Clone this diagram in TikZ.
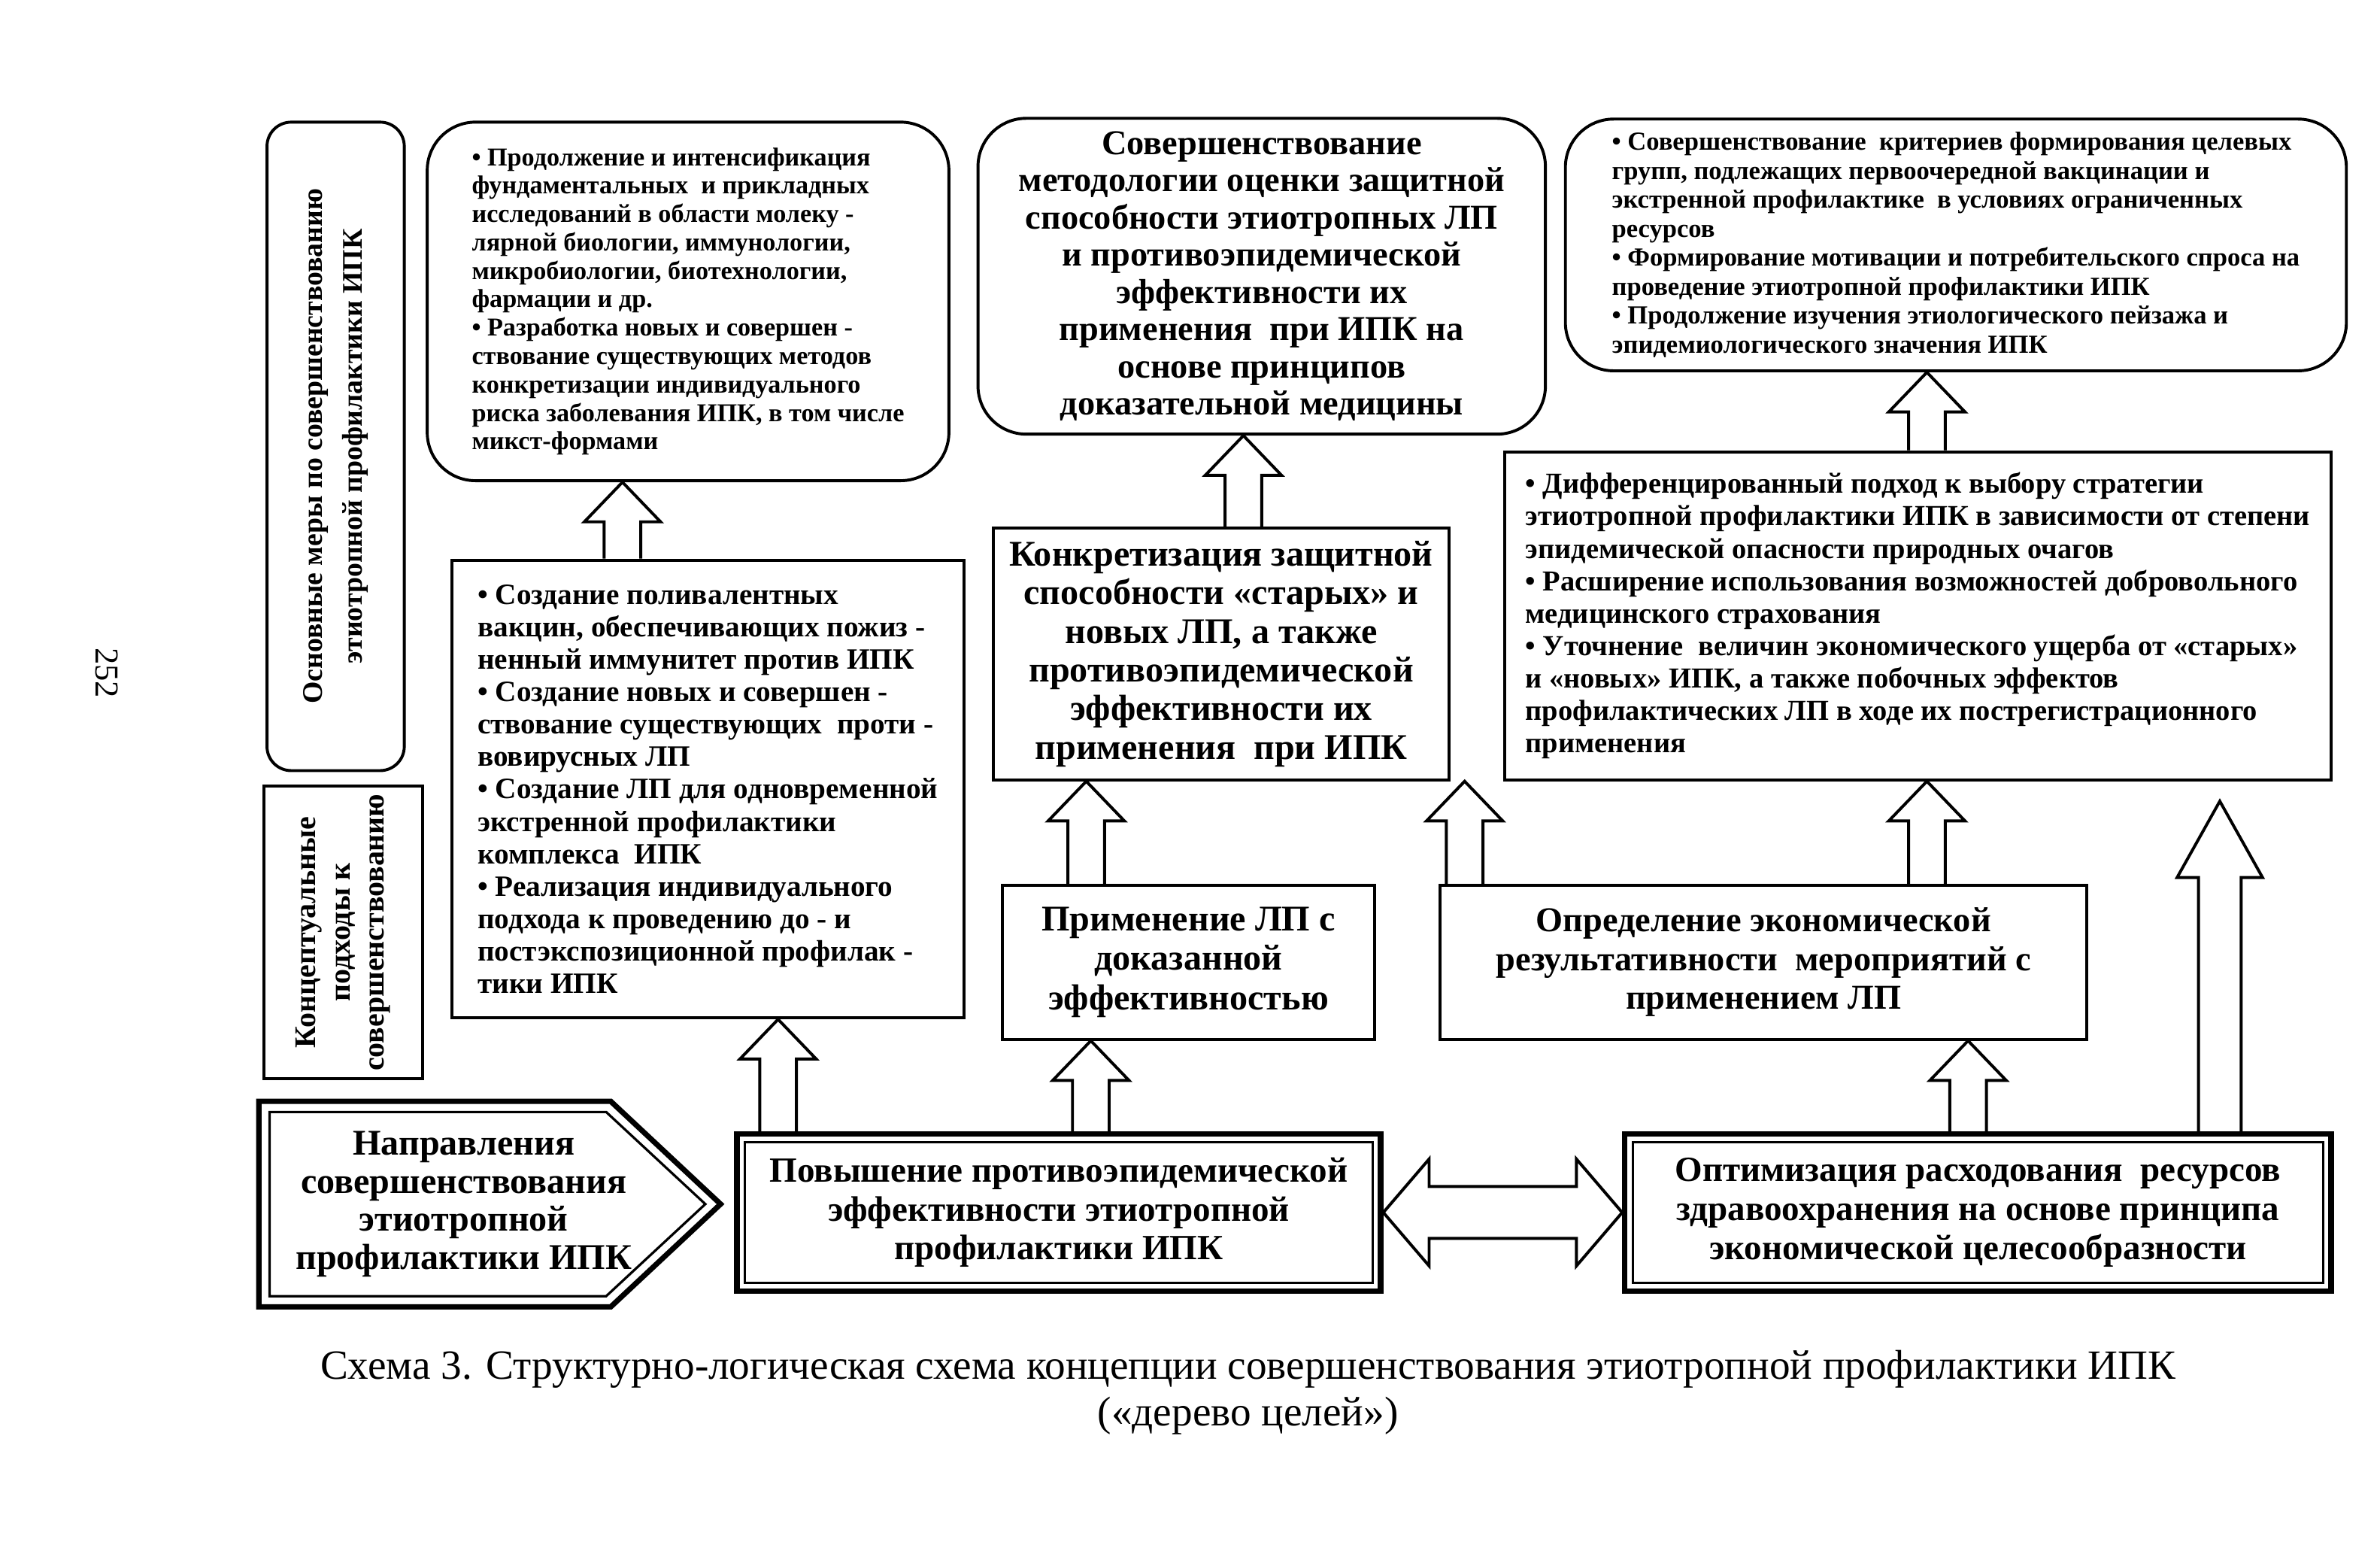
\documentclass[tikz,border=0pt]{standalone}
\usepackage{fontspec}
\setmainfont{Liberation Serif}
\usetikzlibrary{positioning}
\usetikzlibrary{calc}

\tikzset{
  box/.style={draw, line width=1.1pt, inner sep=0pt},
  rbox/.style={box, rounded corners=18pt},
  blk/.style={draw, line width=1.1pt, line join=miter},
}

% hollow block arrow going up from one box to another
\newcommand{\blockup}[3]{%
  \coordinate (s) at (#1,0 |- #2.north);
  \coordinate (e) at (#1,0 |- #3.south);
  \draw[blk] ($(s)+(-12,0)$) -- ($(e)+(-12,26)$) -- ($(e)+(-25,26)$) -- (e)
    -- ($(e)+(25,26)$) -- ($(e)+(12,26)$) -- ($(s)+(12,0)$);
}

\begin{document}
\begin{tikzpicture}[x=0.02cm,y=-0.02cm]
\useasboundingbox (0,0) rectangle (1560,1010.4);

% left column
\node[rbox, rotate=90, rounded corners=9pt, minimum width=8.5cm, minimum height=1.8cm, align=center,
  font={\fontsize{10.6}{15}\selectfont\bfseries}] (lm) at (220,292.5)
  {Основные меры по совершенствованию\\этиотропной профилактики ИПК};
\node[box, rotate=90, minimum width=3.84cm, minimum height=2.08cm, align=center,
  font={\fontsize{11.2}{12.8}\selectfont\bfseries}] (lc) at (225,611)
  {Концептуальные\\подходы к\\совершенствованию};

\node[minimum width=5.36cm, minimum height=2.68cm, inner sep=0pt, align=center,
  font={\fontsize{13.5}{14.2}\selectfont\bfseries}] (dir) at (304,789)
  {Направления\\совершенствования\\этиотропной\\профилактики ИПК};
\draw[line width=2pt] (dir.north west) -- ($(dir.north east)+(-38,0)$) -- ($(dir.east)+(34,0)$)
  -- ($(dir.south east)+(-38,0)$) -- (dir.south west) -- cycle;
\draw[line width=0.9pt] ($(dir.north west)+(7,7)$) -- ($(dir.north east)+(-41,7)$) -- ($(dir.east)+(24,0)$)
  -- ($(dir.south east)+(-41,-7)$) -- ($(dir.south west)+(7,-7)$) -- cycle;

% top row
\node[rbox, minimum width=6.84cm, minimum height=4.7cm, align=left,
  font={\fontsize{9.6}{10.6}\selectfont\bfseries}] (b4) at (451,197.5)
  {• Продолжение и интенсификация\\
   фундаментальных\ \ и прикладных\\
   исследований в области молеку -\\
   лярной биологии, иммунологии,\\
   микробиологии, биотехнологии,\\
   фармации и др.\\
   • Разработка новых и совершен -\\
   ствование существующих методов\\
   конкретизации индивидуального\\
   риска заболевания ИПК, в том числе\\
   микст-формами};
\node[rbox, minimum width=7.44cm, minimum height=4.14cm, align=center,
  font={\fontsize{13}{13.9}\selectfont\bfseries}] (b5) at (827,181)
  {Совершенствование\\
   методологии оценки защитной\\
   способности этиотропных ЛП\\
   и противоэпидемической\\
   эффективности их\\
   применения\ \ при ИПК на\\
   основе принципов\\
   доказательной медицины};
\node[rbox, minimum width=10.24cm, minimum height=3.3cm, align=left,
  font={\fontsize{9.7}{10.8}\selectfont\bfseries}] (b6) at (1282,160.5)
  {• Совершенствование\ \ критериев формирования целевых\\
   групп, подлежащих первоочередной вакцинации и\\
   экстренной профилактике\ \ в условиях ограниченных\\
   ресурсов\\
   • Формирование мотивации и потребительского спроса на\\
   проведение этиотропной профилактики ИПК\\
   • Продолжение изучения этиологического пейзажа и\\
   эпидемиологического значения ИПК};

% middle row
\node[box, minimum width=6.72cm, minimum height=6cm, align=left,
  font={\fontsize{11}{12.1}\selectfont\bfseries}] (b7) at (464,517)
  {• Создание поливалентных\\
   вакцин, обеспечивающих пожиз -\\
   ненный иммунитет против ИПК\\
   • Создание новых и совершен -\\
   ствование существующих\ \ проти -\\
   вовирусных ЛП\\
   • Создание ЛП для одновременной\\
   экстренной профилактики\\
   комплекса\ \ ИПК\\
   • Реализация индивидуального\\
   подхода к проведению до - и\\
   постэкспозиционной профилак -\\
   тики ИПК};
\node[box, minimum width=5.98cm, minimum height=3.3cm, align=center,
  font={\fontsize{13.5}{14.4}\selectfont\bfseries}] (b8) at (800.5,428.5)
  {Конкретизация защитной\\
   способности «старых» и\\
   новых ЛП, а также\\
   противоэпидемической\\
   эффективности их\\
   применения\ \ при ИПК};
\node[box, minimum width=10.84cm, minimum height=4.3cm, align=left,
  font={\fontsize{10.8}{12.1}\selectfont\bfseries}] (b9) at (1257,403.5)
  {• Дифференцированный подход к выбору стратегии\\
   этиотропной профилактики ИПК в зависимости от степени\\
   эпидемической опасности природных очагов\\
   • Расширение использования возможностей добровольного\\
   медицинского страхования\\
   • Уточнение\ \ величин экономического ущерба от «старых»\\
   и «новых» ИПК, а также побочных эффектов\\
   профилактических ЛП в ходе их пострегистрационного\\
   применения};

\node[box, minimum width=4.88cm, minimum height=2.02cm, align=center,
  font={\fontsize{13.5}{14.7}\selectfont\bfseries}] (b10) at (779,630.5)
  {Применение ЛП с\\доказанной\\эффективностью};
\node[box, minimum width=8.48cm, minimum height=2.02cm, align=center,
  font={\fontsize{13}{14.5}\selectfont\bfseries}] (b11) at (1156,630.5)
  {Определение экономической\\результативности\ \ мероприятий с\\применением ЛП};

% bottom row
\node[box, line width=2pt, minimum width=8.44cm, minimum height=2.06cm, align=center,
  font={\fontsize{13.2}{14.5}\selectfont\bfseries}] (b12) at (694,794.5)
  {Повышение противоэпидемической\\эффективности этиотропной\\профилактики ИПК};
\draw[line width=0.9pt] ($(b12.north west)+(7,7)$) rectangle ($(b12.south east)+(-7,-7)$);
\node[box, line width=2pt, minimum width=9.26cm, minimum height=2.06cm, align=center,
  font={\fontsize{13.2}{14.5}\selectfont\bfseries}] (b13) at (1296.5,794.5)
  {Оптимизация расходования\ \ ресурсов\\здравоохранения на основе принципа\\экономической целесообразности};
\draw[line width=0.9pt] ($(b13.north west)+(7,7)$) rectangle ($(b13.south east)+(-7,-7)$);

% arrows
\blockup{408}{b7}{b4}
\blockup{815}{b8}{b5}
\blockup{1263}{b9}{b6}
\blockup{712}{b10}{b8}
\blockup{960}{b11}{b8}
\blockup{1263}{b11}{b9}
\blockup{510}{b12}{b7}
\blockup{715}{b12}{b10}
\blockup{1290}{b13}{b11}

\coordinate (tip) at (1455,525);
\coordinate (s10) at (1455,0 |- b13.north);
\draw[blk] ($(s10)+(-14,0)$) -- ($(tip)+(-14,50)$) -- ($(tip)+(-28,50)$) -- (tip)
  -- ($(tip)+(28,50)$) -- ($(tip)+(14,50)$) -- ($(s10)+(14,0)$);

\coordinate (l) at (b12.east);
\coordinate (r) at (b13.west);
\draw[blk] (l) -- ($(l)+(30,-35)$) -- ($(l)+(30,-17)$) -- ($(r)+(-30,-17)$) -- ($(r)+(-30,-35)$)
  -- (r) -- ($(r)+(-30,35)$) -- ($(r)+(-30,17)$) -- ($(l)+(30,17)$) -- ($(l)+(30,35)$) -- cycle;

% page number and caption
\node[rotate=-90, font={\fontsize{12.5}{14}\selectfont}] (pg) at (70,441) {252};
\node[align=center, font={\fontsize{15.5}{17.6}\selectfont}] (cap) at (818,912.5)
  {Схема 3. Структурно-логическая схема концепции совершенствования этиотропной профилактики ИПК\\
   («дерево целей»)};

\end{tikzpicture}
\end{document}
